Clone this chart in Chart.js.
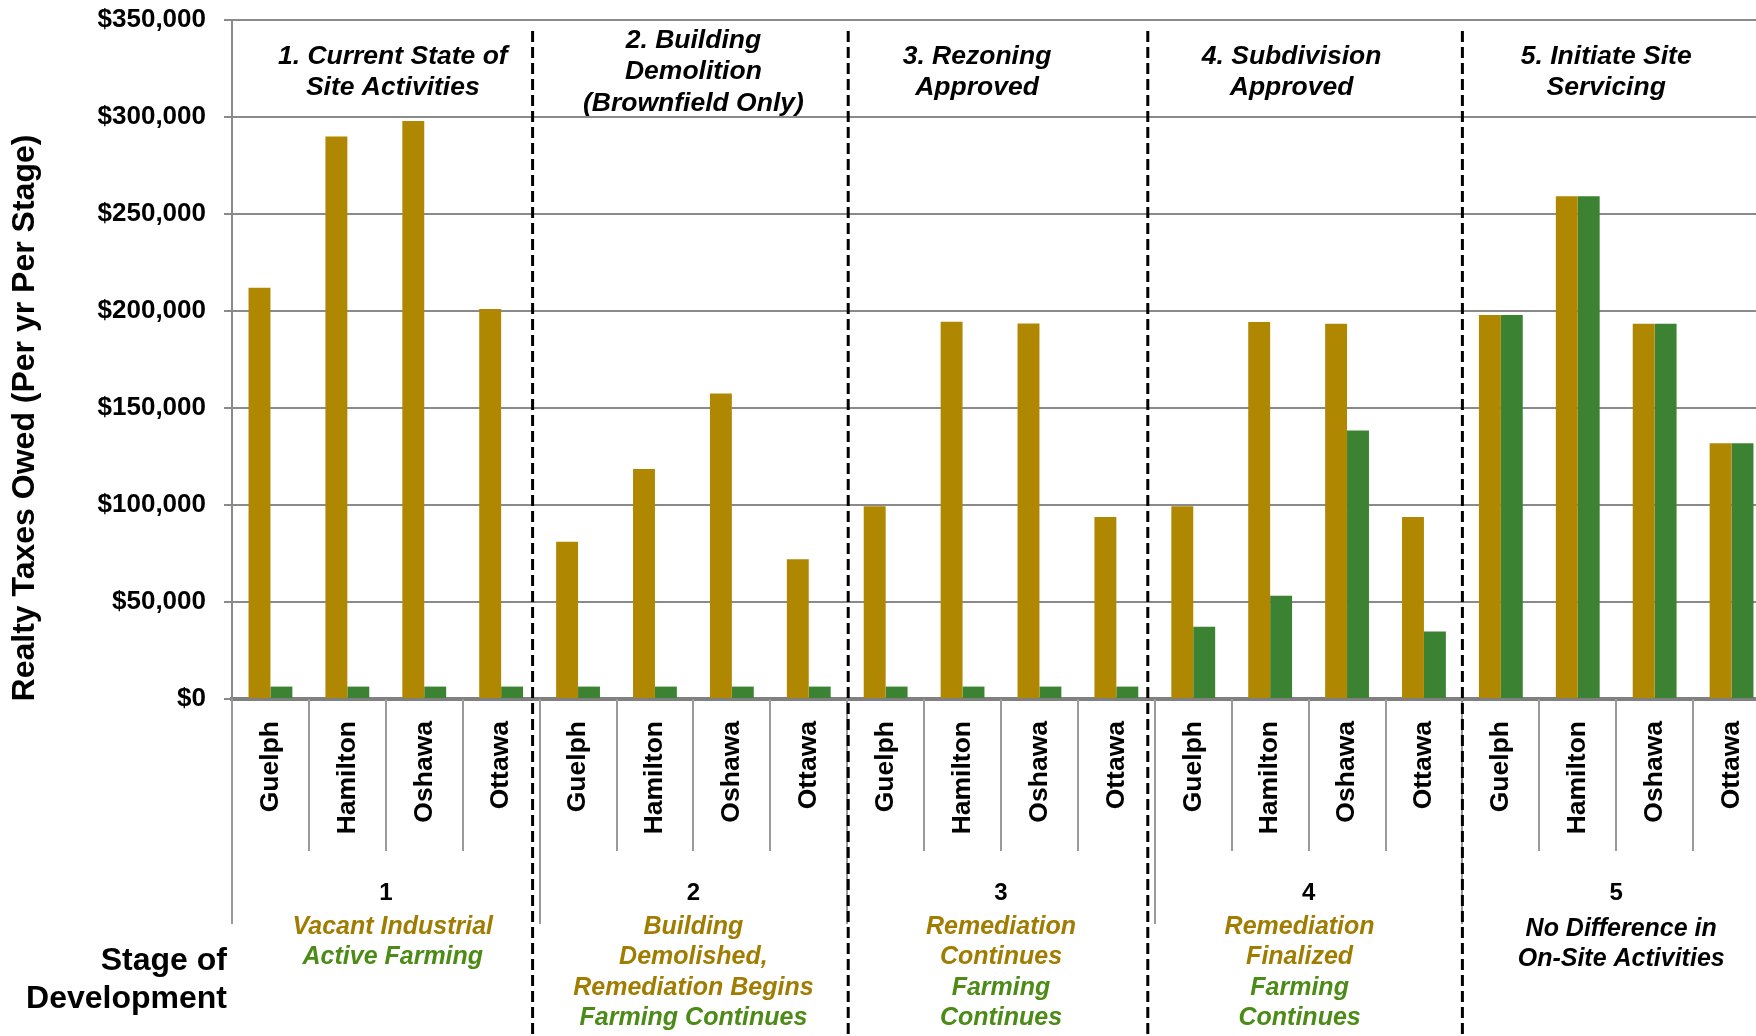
<!DOCTYPE html>
<html>
<head>
<meta charset="utf-8">
<script src="https://cdn.jsdelivr.net/npm/chart.js@4.4.0/dist/chart.umd.min.js"></script>
<style>
  html, body { margin: 0; padding: 0; overflow: hidden; background: #fff; }
</style>
</head>
<body>
<canvas id="taxChart" width="1772" height="1036"></canvas>
<script>
// data
const cities = ['Guelph', 'Hamilton', 'Oshawa', 'Ottawa'];
const stageNumbers = ['1', '2', '3', '4', '5'];
const stageTitles = [
    ['1. Current State of', 'Site Activities'],
    ['2. Building', 'Demolition', '(Brownfield Only)'],
    ['3. Rezoning', 'Approved'],
    ['4. Subdivision', 'Approved'],
    ['5. Initiate Site', 'Servicing']
];
const stageNotes = [
    ['Vacant Industrial', 'Active Farming'],
    ['Building', 'Demolished,', 'Remediation Begins', 'Farming Continues'],
    ['Remediation', 'Continues', 'Farming', 'Continues'],
    ['Remediation', 'Finalized', 'Farming', 'Continues'],
    ['No Difference in', 'On-Site Activities']
];
// b = brownfield (gold), g = greenfield (green), n = neutral (black)
const stageNoteKinds = [
    ['b', 'g'],
    ['b', 'b', 'b', 'g'],
    ['b', 'b', 'g', 'g'],
    ['b', 'b', 'g', 'g'],
    ['n', 'n']
];
const brownfieldTaxes = [
    212000, 290000, 298000, 201000,
    81000, 118500, 157500, 72000,
    99300, 194500, 193500, 93800,
    99300, 194300, 193400, 93800,
    198000, 259200, 193400, 131800
];
const greenfieldTaxes = [
    6400, 6400, 6400, 6400,
    6400, 6400, 6400, 6400,
    6400, 6400, 6400, 6400,
    37200, 53200, 138400, 34800,
    198000, 259200, 193400, 131800
];
const yMax = 350000;
const yStep = 50000;

const labels = [];
stageNumbers.forEach(() => cities.forEach(c => labels.push(c)));

const GOLD = '#b08700';
const GREEN = '#3c8233';
const NOTE_COLORS = { b: '#a07c00', g: '#4b8b16', n: '#000000' };
const FONT = '"Liberation Sans", Arial, sans-serif';

function drawText(ctx, text, x, y, font, color, align) {
    ctx.save();
    ctx.font = font;
    ctx.fillStyle = color || '#000';
    ctx.textAlign = align || 'center';
    ctx.textBaseline = 'middle';
    ctx.fillText(text, x, y);
    ctx.restore();
}

const decorations = {
    id: 'decorations',
    afterDraw(chart) {
        const ctx = chart.ctx;
        const x = chart.scales.x;
        const area = chart.chartArea;
        const half = (x.getPixelForValue(1) - x.getPixelForValue(0)) / 2;
        const n = labels.length;

        // category separators under the axis
        ctx.save();
        ctx.strokeStyle = '#9a9a9a';
        ctx.lineWidth = 2;
        for (let i = 0; i <= n; i++) {
            const px = Math.round(x.getPixelForValue(i) - half);
            const groupEdge = i % cities.length === 0;
            ctx.beginPath();
            ctx.moveTo(px, area.bottom);
            ctx.lineTo(px, groupEdge ? 924 : 851);
            ctx.stroke();
        }
        ctx.restore();

        // dashed stage dividers
        const dashShift = [-7, 1, -7, 0];
        ctx.save();
        ctx.strokeStyle = '#000';
        ctx.lineWidth = 3;
        ctx.setLineDash([11, 5]);
        for (let s = 1; s < stageNumbers.length; s++) {
            const px = x.getPixelForValue(s * cities.length) - half + dashShift[s - 1];
            ctx.beginPath();
            ctx.moveTo(px, 31);
            ctx.lineTo(px, 1036);
            ctx.stroke();
        }
        ctx.restore();

        const titleShift = [7, 0, -24, -17, -10];
        const noteShift = [7, 0, 0, -9, 5];
        stageNumbers.forEach((num, s) => {
            const cx = (x.getPixelForValue(s * cities.length) + x.getPixelForValue(s * cities.length + 3)) / 2;

            // titles at the top
            const t = stageTitles[s];
            const top = 72 - (t.length - 1) * 31.5 / 2;
            t.forEach((line, k) => {
                drawText(ctx, line, cx + titleShift[s], top + k * 31.5,
                    'italic bold 26.5px ' + FONT, '#000');
            });

            // stage number and notes below
            drawText(ctx, num, cx, 893, 'bold 24px ' + FONT, '#000');
            const notes = stageNotes[s];
            const y0 = s === 4 ? 929 : 927;
            notes.forEach((line, k) => {
                drawText(ctx, line, cx + noteShift[s], y0 + k * 30.5,
                    'italic bold 25px ' + FONT, NOTE_COLORS[stageNoteKinds[s][k]]);
            });
        });

        drawText(ctx, 'Stage of', 227, 961, 'bold 32px ' + FONT, '#000', 'right');
        drawText(ctx, 'Development', 227, 999, 'bold 32px ' + FONT, '#000', 'right');

        // y axis title
        ctx.save();
        ctx.translate(25, 418);
        ctx.rotate(-Math.PI / 2);
        drawText(ctx, 'Realty Taxes Owed (Per yr Per Stage)', 0, 0, 'bold 32px ' + FONT, '#000');
        ctx.restore();
    }
};

const ctx = document.getElementById('taxChart').getContext('2d');
new Chart(ctx, {
    type: 'bar',
    data: {
        labels: labels,
        datasets: [{
            label: 'Brownfield',
            data: brownfieldTaxes,
            backgroundColor: GOLD,
            categoryPercentage: 0.57,
            barPercentage: 1.0
        }, {
            label: 'Greenfield',
            data: greenfieldTaxes,
            backgroundColor: GREEN,
            categoryPercentage: 0.57,
            barPercentage: 1.0
        }]
    },
    options: {
        responsive: false,
        animation: false,
        devicePixelRatio: 1,
        layout: {
            padding: { top: 20, left: 0, right: 2, bottom: 0 }
        },
        plugins: {
            legend: { display: false },
            tooltip: { enabled: false }
        },
        scales: {
            x: {
                grid: { display: false },
                border: { display: true, color: '#808080', width: 4 },
                ticks: {
                    autoSkip: false,
                    minRotation: 90,
                    maxRotation: 90,
                    padding: 14,
                    color: '#000',
                    font: { family: FONT, size: 26.5, weight: 'bold' }
                },
                afterFit(scale) {
                    scale.height = 337;
                    scale.paddingLeft = 0;
                    scale.paddingRight = 0;
                }
            },
            y: {
                min: 0,
                max: yMax,
                ticks: {
                    stepSize: yStep,
                    padding: 18,
                    color: '#000',
                    font: { family: FONT, size: 26, weight: 'bold' },
                    callback: v => '$' + v.toLocaleString('en-US')
                },
                grid: { color: '#8a8a8a', lineWidth: 2, tickLength: 8 },
                border: { display: true, color: '#8a8a8a', width: 2 },
                afterFit(scale) {
                    scale.width = 232;
                    scale.paddingTop = 0;
                    scale.paddingBottom = 0;
                }
            }
        }
    },
    plugins: [decorations]
});
</script>
</body>
</html>
